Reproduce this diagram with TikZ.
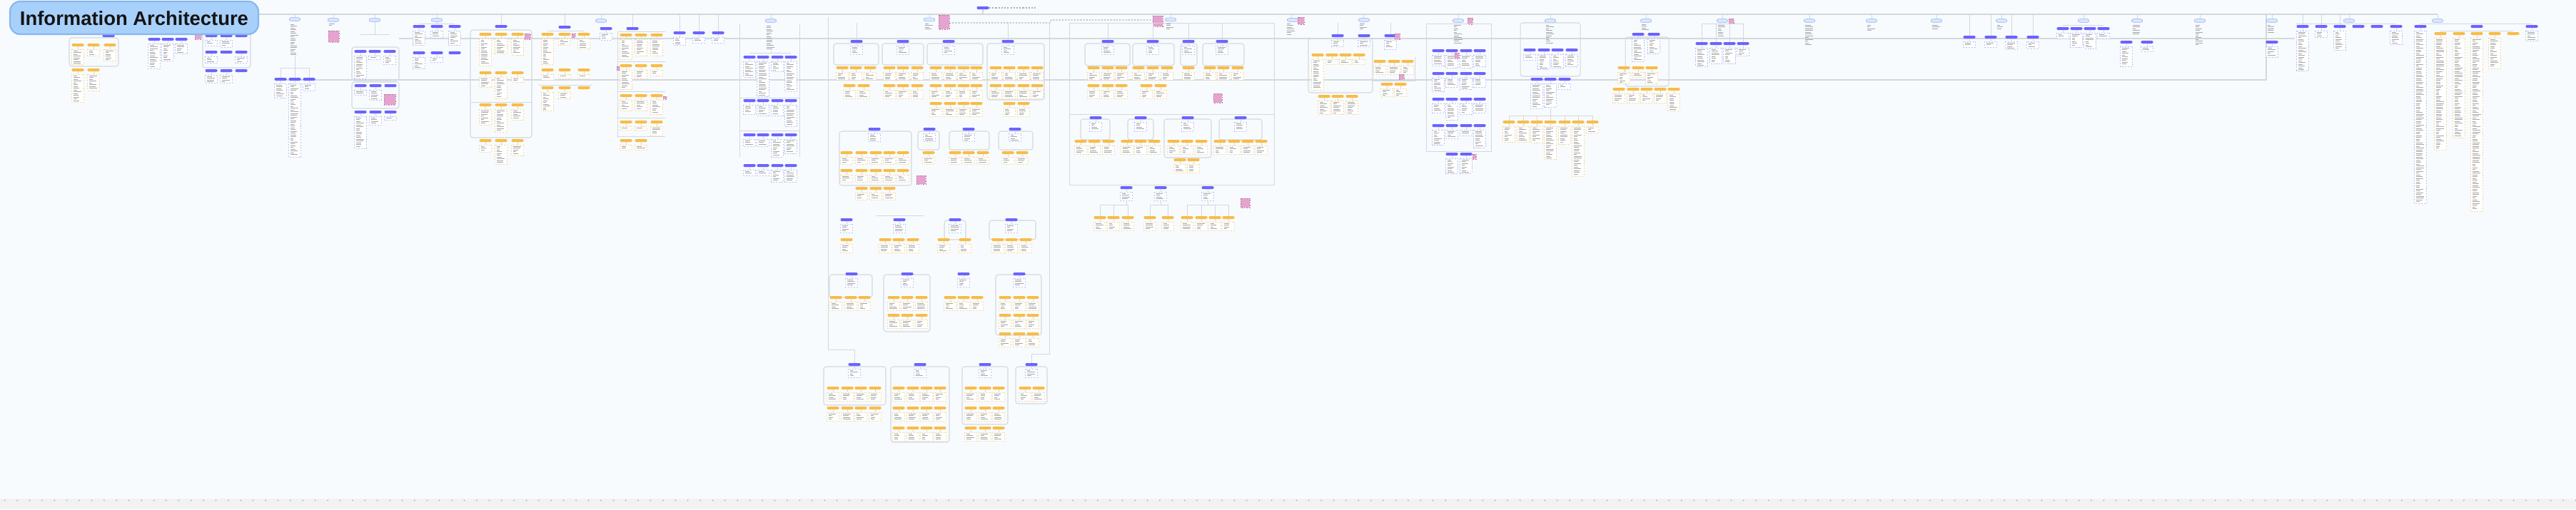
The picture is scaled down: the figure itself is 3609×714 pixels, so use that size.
\documentclass[tikz,border=0pt]{standalone}
\usepackage{fontspec}
\setmainfont{Liberation Sans}
\definecolor{bg}{HTML}{F8FBFE}
\definecolor{bluebar}{HTML}{6B63FF}
\definecolor{orangebar}{HTML}{F9BC45}
\definecolor{lblfill}{HTML}{D9E6FF}
\definecolor{lbldraw}{HTML}{AFC6F5}
\definecolor{pinkf}{HTML}{E6A3CF}
\definecolor{grpline}{HTML}{D3D8DE}
\definecolor{bdash}{HTML}{B9C3F2}
\definecolor{odash}{HTML}{F3D9A0}
\definecolor{titlef}{HTML}{A7D0FA}
\definecolor{titled}{HTML}{86B8EE}
\definecolor{strip}{HTML}{F2F2F2}
\definecolor{dotc}{HTML}{A3ACB8}
\tikzset{
  fillb/.style={fill=bluebar,rounded corners=0.4pt},
  fillo/.style={fill=orangebar,rounded corners=0.4pt},
  conn/.style={draw=grpline,line width=0.25pt},
  bus/.style={draw=grpline,line width=0.4pt},
  grpsty/.style={draw=grpline,line width=0.3pt,rounded corners=1pt},
  tboxb/.style={draw=bdash,dash pattern=on 0.6pt off 0.5pt,line width=0.2pt,fill=white},
  tboxo/.style={draw=odash,dash pattern=on 0.6pt off 0.5pt,line width=0.2pt,fill=white},
  txtline/.style={draw=black!35,line width=0.2pt},
  lblsty/.style={fill=lblfill,draw=lbldraw,line width=0.2pt,rounded corners=0.8pt},
  pinksty/.style={fill=pinkf,draw=pinkf!75!black,dash pattern=on 0.5pt off 0.5pt,line width=0.2pt},
  dotsty/.style={draw=grpline!80!black,line width=0.3pt,dash pattern=on 0.6pt off 0.6pt},
}
\newcommand{\Scrib}[3]{%
  \pgfmathsetmacro{\sya}{#2+2}%
  \pgfmathsetmacro{\syb}{#2+4.5}%
  \pgfmathsetmacro{\syc}{#3-1.5}%
  \ifdim\syb pt<\syc pt
    \foreach \yy in {\sya,\syb,...,\syc}{\draw[txtline] (#1-6.5,\yy) -- ++({4+8*rnd},0);}%
  \else
    \ifdim\sya pt<\syc pt \draw[txtline] (#1-6.5,\sya) -- ++(8,0);\fi
  \fi}
\newcommand{\Card}[4]{%
  \fill[fill#1] (#2-8.5,#3) rectangle (#2+8.5,#3+4);%
  \pgfmathsetmacro{\cyb}{#3+8}%
  \ifdim #4pt>\cyb pt
    \draw[conn] (#2,#3+4) -- (#2,#3+8);%
    \draw[tbox#1] (#2-8.5,#3+8) rectangle (#2+8.5,#4);%
    \Scrib{#2}{#3+8}{#4}%
  \fi}
\newcommand{\Crow}[3]{\foreach \cx/\cb in {#3}{\Card{#1}{\cx}{#2}{\cb}}}
\newcommand{\Lbl}[2]{\filldraw[lblsty] (#1-7.5,#2-2.5) rectangle (#1+7.5,#2+2.5);}
\newcommand{\Tcol}[3]{\Scrib{#1}{#2}{#3}}
\newcommand{\Pk}[4]{\filldraw[pinksty] (#1,#2) rectangle (#3,#4);}
\newcommand{\Grp}[4]{\draw[grpsty] (#1,#2) rectangle (#3,#4);}
\begin{document}
\begin{tikzpicture}[x=0.01cm,y=-0.01cm]
\pgfmathsetseed{42}
\useasboundingbox (0,0) rectangle (3609,714);
\fill[bg] (0,0) rectangle (3609,714);
\fill[strip] (0,699) rectangle (3609,714);
\foreach \i in {0,...,207} {\fill[dotc] (6.7+17.4*\i,701.5) circle (1);}
% ---- buses
\draw[bus] (150,20) -- (3415,20);
\draw[bus] (559,54) -- (3215,54);
\draw[bus] (390,112) -- (3175,112) -- (3175,20);
\draw[bus] (1377,13) -- (1377,20);
\draw[dotsty] (1386,11) -- (1451,11);
\foreach \x in {413,467,525,612,842,1080,1302,1640,1809,1910,2043,2172,2306,2413,2535,2622,2713,2804,2919,2994,3082,3183,3291,3415} {\draw[conn] (\x,20) -- (\x,26.5);}
\draw[conn] (702,20) -- (702,35);
\draw[conn] (791,20) -- (791,36);
\draw[conn] (886,20) -- (886,38);
\foreach \x in {952,979,1006} {\draw[conn] (\x,20) -- (\x,44);}
\foreach \x in {2759,2789,2818,2848} {\draw[conn] (\x,20) -- (\x,50);}
\foreach \x in {3226,3252,3278} {\draw[conn] (\x,20) -- (\x,35);}
% root
\Card{b}{1377}{9}{0}
% ---- cluster A
\Card{b}{152}{48}{0}
\Grp{97}{53}{166}{93}
\Crow{o}{61}{109/90,131/78,154/85}
\Crow{o}{96}{109/143,131/127}
% ---- cluster B
\Crow{b}{53}{216/96,235/85,254/75}
\Pk{273}{48}{282}{55}
% ---- cluster C
\Grp{284}{46}{351}{95}
\Crow{b}{48}{296/64,317/66,338/0}
\Crow{b}{71}{296/88,317/0,338/88}
\Crow{b}{97}{296/116,317/116,338/0}
% ---- cluster D
\Lbl{413}{27}\Tcol{413}{32}{78}
\draw[conn] (413,78) -- (413,95) (393,95) -- (433,95);
\foreach \x in {393,413,433} {\draw[conn] (\x,95) -- (\x,109);}
\Crow{b}{109}{393/137,413/220,433/127}
% ---- cluster E
\Lbl{467}{28}\Tcol{467}{31}{38}
\Pk{460}{43}{475}{59}
% ---- cluster F
\Lbl{525}{28}
\draw[conn] (525,30.5) -- (525,48) (505,48) -- (546,48);
\Grp{493}{66}{559}{113}
\Crow{b}{70}{505/110,525/83,546/90}
\Grp{493}{115}{559}{152}
\Crow{b}{118}{505/133,526/140,547/0}
\Pk{538}{132}{554}{147}
\Crow{b}{155}{505/208,526/175,547/168}
% ---- cluster G
\Lbl{612}{28}
\draw[conn] (612,30.5) -- (612,33) (587,33) -- (637,33);
\Crow{b}{35}{587/63,612/53,637/63}
\Crow{b}{72}{587/96,612/87,637/0}
% ---- cluster H
\Card{b}{702}{35}{0}
\Grp{659}{42}{745}{193}
\draw[conn] (659,143) -- (745,143);
\Crow{o}{46}{680/92,702/75,725/77}
\Pk{735}{47}{743}{55}
\Crow{o}{100}{680/122,702/138,725/115}
\Crow{o}{145}{680/175,702/185,725/168}
\Crow{o}{195}{680/213,702/230,725/218}
% ---- cluster I
\Card{b}{791}{36}{0}
\draw[conn] (767,43) -- (818,43) (755,119) -- (830,119);
\Crow{o}{46}{767/90,791/63,818/68}
\Pk{801}{47}{806}{52}
\Crow{o}{96}{767/112,791/110,818/110}
\Crow{o}{121}{767/155,791/138,818/0}
% ---- cluster J
\Lbl{842}{29}
\Card{b}{849}{38}{56}
% ---- cluster K
\Card{b}{886}{38}{0}
\draw[conn] (865,44) -- (865,193);
\foreach \yy in {44,86,128,165,191} {\draw[conn] (865,\yy) -- (932,\yy);}
\Crow{o}{47}{877/83,898/78,920/78}
\Crow{o}{90}{877/125,898/110,920/106}
\Pk{864}{93}{868}{98}
\Crow{o}{132}{877/155,898/155,920/160}
\Pk{929}{135}{934}{139}
\Crow{o}{169}{877/182,898/182,920/190}
\Crow{o}{195}{877/210,898/210}
% ---- cluster L
\Crow{b}{44}{952/63,979/60,1006/60}
% ---- cluster M
\Lbl{1080}{29}\Tcol{1080}{34}{70}
\draw[conn] (1036,33) -- (1036,220) (1120,33) -- (1120,220) (1036,137) -- (1120,137) (1036,183) -- (1120,183) (1080,70) -- (1080,74) (1050,74) -- (1108,74);
\Crow{b}{78}{1050/108,1069/135,1089/100,1108/128}
\Crow{b}{139}{1050/160,1069/162,1089/162,1108/177}
\Crow{b}{187}{1050/205,1069/205,1089/220,1108/215}
\Crow{b}{230}{1050/246,1069/246,1089/255,1108/255}
% ---- centre cluster
\Lbl{1302}{27.5}\Tcol{1302}{31}{42}
\Pk{1315}{21}{1330}{41}
\Pk{1615}{22}{1629}{37}
\Lbl{1640}{27.5}\Tcol{1640}{31}{42}
\draw[dotsty] (1330,32) -- (1471,32) -- (1473,28) -- (1615,28);
\draw[conn] (1160,24) -- (1160,490) -- (1197,490) -- (1197,509);
\draw[conn] (1470,32) -- (1470,496) -- (1445,496) -- (1445,509);
\draw[conn] (1498,32) rectangle (1785,259);
\draw[conn] (1498,160) -- (1785,160);
\foreach \x in {1200,1412,1552,1615,1665,1712} {\draw[conn] (\x,32) -- (\x,56);}
% row 1
\Grp{1168}{61}{1231}{91}\Grp{1236}{61}{1294}{91}\Grp{1299}{61}{1377}{91}\Grp{1383}{61}{1463}{140}
\Crow{b}{56}{1200/76,1265/76,1329/76,1412/76}
\Crow{o}{93}{1180/112,1199/112,1219/112,1246/112,1265/112,1285/112,1311/112,1331/112,1350/112,1368/112,1395/112,1414/112,1434/112,1453/112}
\Crow{o}{118}{1190/138,1210/138,1246/138,1265/138,1285/138,1311/138,1331/138,1350/138,1368/138,1395/138,1414/138,1434/138,1453/138}
\Crow{o}{143}{1311/163,1331/163,1350/163,1368/163,1414/163,1434/163}
% row 2
\Grp{1176}{184}{1277}{260}\Grp{1286}{184}{1316}{210}\Grp{1330}{184}{1386}{210}\Grp{1399}{184}{1447}{210}
\Crow{b}{179}{1225/198,1302/198,1357/198,1422/198}
\Crow{o}{212}{1186/230,1207/230,1227/230,1246/230,1265/230,1301/230,1338/230,1357/230,1377/230,1412/230,1432/230}
\Crow{o}{237}{1186/255,1207/255,1227/255,1246/255,1265/255}
\Pk{1284}{246}{1297}{258}
\Crow{o}{262}{1207/280,1227/280,1246/280}
% row 3
\Grp{1323}{309}{1353}{336}\Grp{1386}{309}{1451}{336}
\draw[conn] (1227,302) -- (1295,302);
\Crow{b}{306}{1186/326,1260/326,1338/326,1417/326}
\Crow{o}{334}{1186/354,1240/354,1259/354,1279/354,1322/354,1352/354,1398/354,1417/354,1437/354}
% row 4
\Grp{1162}{385}{1222}{417}\Grp{1238}{385}{1303}{465}\Grp{1395}{385}{1459}{470}
\Crow{b}{382}{1193/402,1271/402,1350/402,1428/402}
\Crow{o}{415}{1171/435,1192/435,1211/435,1252/435,1271/435,1291/435,1331/435,1350/435,1369/435,1408/435,1428/435,1447/435}
\Crow{o}{440}{1252/460,1271/460,1291/460,1408/460,1428/460,1447/460}
\Crow{o}{466}{1408/486,1428/486,1447/486}
% row 5
\Grp{1154}{514}{1241}{568}\Grp{1248}{514}{1330}{620}\Grp{1348}{514}{1412}{595}\Grp{1423}{514}{1467}{566}
\Crow{b}{509}{1197/529,1289/529,1380/529,1445/529}
\Crow{o}{542}{1167/562,1187/562,1206/562,1226/562,1259/562,1279/562,1298/562,1317/562,1360/562,1380/562,1399/562,1436/562,1455/562}
\Crow{o}{570}{1167/590,1187/590,1206/590,1226/590,1259/590,1279/590,1298/590,1317/590,1360/590,1380/590,1399/590}
\Crow{o}{598}{1259/618,1279/618,1298/618,1317/618,1360/618,1380/618,1399/618}
% ---- second big group
\Grp{1520}{61}{1583}{92}\Grp{1587}{61}{1645}{92}\Grp{1654}{61}{1677}{92}\Grp{1685}{61}{1743}{92}
\Crow{b}{56}{1552/76,1615/76,1665/76,1712/76}
\Crow{o}{93}{1532/112,1552/112,1571/112,1595/112,1615/112,1635/112,1665/112,1695/112,1714/112,1734/112}
\Crow{o}{118}{1532/138,1552/138,1571/138,1606/138,1626/138}
\Pk{1700}{131}{1712}{144}
\Grp{1514}{167}{1555}{196}\Grp{1580}{167}{1616}{196}\Grp{1631}{167}{1697}{221}\Grp{1708}{167}{1768}{196}
\Crow{b}{163}{1535/184,1598/184,1664/184,1738/184}
\Crow{o}{196}{1514/216,1533/216,1553/216,1579/216,1598/216,1617/216,1644/216,1663/216,1683/216,1709/216,1729/216,1748/216,1767/216}
\Crow{o}{222}{1653/242,1672/242}
\Crow{b}{261}{1578/281,1626/281,1692/281}
\draw[conn] (1578,281) -- (1578,287) (1541,287) -- (1580,287) (1626,281) -- (1626,287) (1611,287) -- (1636,287) (1692,281) -- (1692,287) (1663,287) -- (1721,287);
\foreach \x in {1541,1560,1580,1611,1636,1663,1683,1702,1721} {\draw[conn] (\x,287) -- (\x,303);}
\Crow{o}{303}{1541/323,1560/323,1580/323,1611/323,1636/323,1663/323,1683/323,1702/323,1721/323}
\Pk{1738}{278}{1751}{291}
% ---- cluster at 1800-1980
\Lbl{1811}{28}\Pk{1818}{24}{1827}{34}\Tcol{1809}{31}{50}
\Lbl{1911}{28}\Tcol{1911}{31}{42}
\draw[conn] (1874,32) -- (1874,48) (1948,32) -- (1948,48);
\Crow{b}{48}{1874/65,1911/65,1948/69}
\Pk{1954}{47}{1961}{55}
\Grp{1833}{54}{1923}{130}
\draw[conn] (1923,113) -- (1982,113) -- (1982,80);
\Crow{o}{75}{1846/126,1866/90,1885/90,1904/90}
\Crow{o}{84}{1933/104,1953/104,1972/104}
\Pk{1960}{104}{1967}{111}
\Crow{o}{116}{1943/135,1962/135}
\Crow{o}{133}{1855/160,1874/160,1894/160}
% ---- cluster P
\Lbl{2043}{29}\Pk{2056}{25}{2063}{34}\Tcol{2043}{33}{63}
\draw[conn] (1998,33) -- (1998,212) -- (2089,212) -- (2089,33) -- cycle;
\Crow{b}{69}{2015/92,2034/95,2054/95,2073/93}
\Pk{2038}{74}{2044}{82}
\Crow{b}{101}{2015/128,2034/122,2054/125,2073/122}
\Crow{b}{137}{2015/158,2034/168,2054/160,2073/158}
\Crow{b}{174}{2015/203,2034/194,2054/190,2073/207}
\Crow{b}{214}{2034/243,2054/243}
\Pk{2063}{216}{2068}{223}
% ---- cluster Q
\Lbl{2172}{29}\Tcol{2172}{33}{62}
\Grp{2130}{32}{2214}{107}
\Crow{b}{68}{2143/84,2163/97,2182/95,2202/93}
\Crow{b}{109}{2153/152,2172/150,2192/125}
\draw[conn] (2172,152) -- (2172,162) (2114,162) -- (2231,162);
\foreach \x in {2114,2134,2153,2172,2192,2211,2231} {\draw[conn] (\x,162) -- (\x,169);}
\Crow{o}{169}{2114/199,2134/199,2153/200,2172/223,2192/202,2211/247,2231/187}
% ---- cluster R
\Lbl{2306}{29}\Tcol{2306}{32}{44}
\Crow{b}{46}{2295/86,2317/75}
\Grp{2277}{52}{2338}{121}
\Crow{o}{93}{2275/117,2295/108,2314/117}
\Crow{o}{123}{2268/144,2288/144,2307/144,2326/144,2345/155}
% ---- cluster S
\Lbl{2413}{29}\Pk{2422}{26}{2429}{33}\Tcol{2413}{33}{52}
\draw[conn] (2384,33) -- (2442,33);
\foreach \x in {2384,2404,2423,2442} {\draw[conn] (\x,33) -- (\x,59);}
\Crow{b}{59}{2384/93,2404/89,2423/89,2442/78}
% ---- small clusters
\Lbl{2535}{29}\Tcol{2535}{33}{65}
\Lbl{2622}{29}\Tcol{2622}{33}{46}
\Lbl{2713}{29}\Tcol{2713}{33}{43}
\Lbl{2804}{29}\Tcol{2804}{33}{42}
\Crow{b}{50}{2759/66,2789/66,2818/69,2848/68}
\Lbl{2919}{29}
\draw[conn] (2890,35) -- (2947,35);
\Crow{b}{38}{2890/54,2909/66,2928/68,2947/54}
\Lbl{2994}{29}\Tcol{2994}{33}{50}
\Crow{b}{57}{2979/93,3008/72}
\Lbl{3082}{29}\Tcol{3082}{33}{65}
\Lbl{3183}{29}\Tcol{3183}{33}{47}
\Card{b}{3183}{57}{80}
\draw[conn] (3216,33) -- (3357,33);
\Lbl{3291}{29}
\Crow{b}{35}{3226/99,3252/52,3278/70,3304/0,3330/0,3357/62}
% ---- right cluster
\Lbl{3415}{29}
\draw[conn] (3390,33) -- (3547,33);
\Crow{b}{35}{3391/285,3470/0,3547/57}
\draw[conn] (3419,43) -- (3521,43);
\Crow{o}{45}{3419/210,3445/193,3470/296,3495/96,3521/0}
% ---- title
\filldraw[fill=titlef,draw=titled,line width=0.6pt,rounded corners=4pt] (14,2) rectangle (362,48);
\node[font=\bfseries\fontsize{7.8}{9}\selectfont,text=black!92,inner sep=0pt] (title) at (188,25.5) {Information Architecture};
\end{tikzpicture}
\end{document}
